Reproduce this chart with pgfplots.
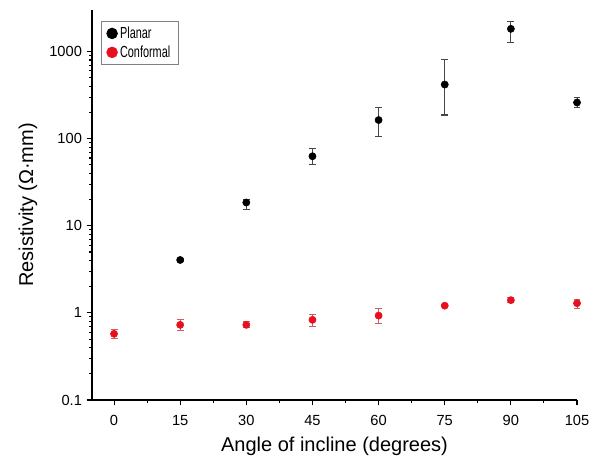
\documentclass[border=0pt]{standalone}
\usepackage{fontspec}
\setmainfont{Liberation Sans}
\newfontfamily\narrowfont[FakeStretch=0.68]{Liberation Sans}
\usepackage{pgfplots}
\usepackage{pgfplotstable}
\pgfplotsset{compat=1.18}

\definecolor{ptred}{RGB}{232,16,30}
\definecolor{errred}{RGB}{205,95,95}
\definecolor{errgray}{RGB}{70,70,70}

% angle, resistivity, error plus, error minus
\pgfplotstableread{
x    y      ep     em
15   4.05   0.15   0.20
30   18.5   1.7    3.2
45   62.8   14.7   12.4
60   163.6  64     58
75   418    388    231
90   1823   410    548
105  260    34     34
}\planar

\pgfplotstableread{
x    y      ep     em
0    0.575  0.076  0.070
15   0.729  0.103  0.106
30   0.729  0.060  0.055
45   0.832  0.124  0.135
60   0.931  0.180  0.180
75   1.21   0.030  0.030
90   1.40   0.100  0.100
105  1.29   0.130  0.180
}\conformal

\begin{document}
\begin{tikzpicture}
\begin{axis}[
  name=ax,
  scale only axis,
  width=363.75pt, height=292.5pt,
  ymode=log,
  xmin=-5, xmax=105,
  ymin=0.1, ymax=3000,
  axis lines=left,
  axis line style={-, line width=0.8pt},
  tick align=outside,
  tick style={black, line width=0.8pt},
  major tick length=4pt,
  minor tick length=2.2pt,
  xtick={0,15,...,105},
  minor x tick num=1,
  ytick={0.1,1,10,100,1000},
  yticklabels={0.1,1,10,100,1000},
  ticklabel style={font=\fontsize{11}{13}\selectfont},
  xticklabel style={yshift=-4pt},
  /pgf/number format/assume math mode=true,
  xlabel={Angle of incline (degrees)},
  ylabel={Resistivity (Ω·mm)},
  label style={font=\fontsize{15}{17}\selectfont},
  xlabel style={at={(rel axis cs:0.5,-0.12)}, anchor=center},
  ylabel style={at={(rel axis cs:-0.132,0.5)}, anchor=center},
  legend style={at={(rel axis cs:0.0186,0.972)}, anchor=north west,
    draw=gray, line width=0.6pt, font=\narrowfont\fontsize{12}{14}\selectfont,
    inner xsep=4pt, inner ysep=2pt, row sep=0pt},
  legend cell align=left,
  legend image post style={mark size=4pt},
  clip=false,
]
\addplot+[only marks, mark=*, mark size=2.7pt, color=black, mark options={fill=black},
  error bars/.cd, y dir=both, y explicit,
  error bar style={line width=0.7pt, color=errgray},
  error mark options={rotate=90, mark size=2.6pt, line width=0.8pt, color=errgray}]
  table[x=x, y=y, y error plus=ep, y error minus=em] {\planar};
\addlegendentry{Planar}
\addplot+[only marks, mark=*, mark size=2.7pt, color=ptred, mark options={fill=ptred},
  error bars/.cd, y dir=both, y explicit,
  error bar style={line width=0.7pt, color=errred},
  error mark options={rotate=90, mark size=2.6pt, line width=0.8pt, color=errred}]
  table[x=x, y=y, y error plus=ep, y error minus=em] {\conformal};
\addlegendentry{Conformal}
\coordinate (bl) at (rel axis cs:-0.1897,-0.164);
\coordinate (tr) at (rel axis cs:1.0515,1.0256);
\end{axis}
\pgfresetboundingbox
\path[use as bounding box] (bl) rectangle (tr);
\end{tikzpicture}
\end{document}
